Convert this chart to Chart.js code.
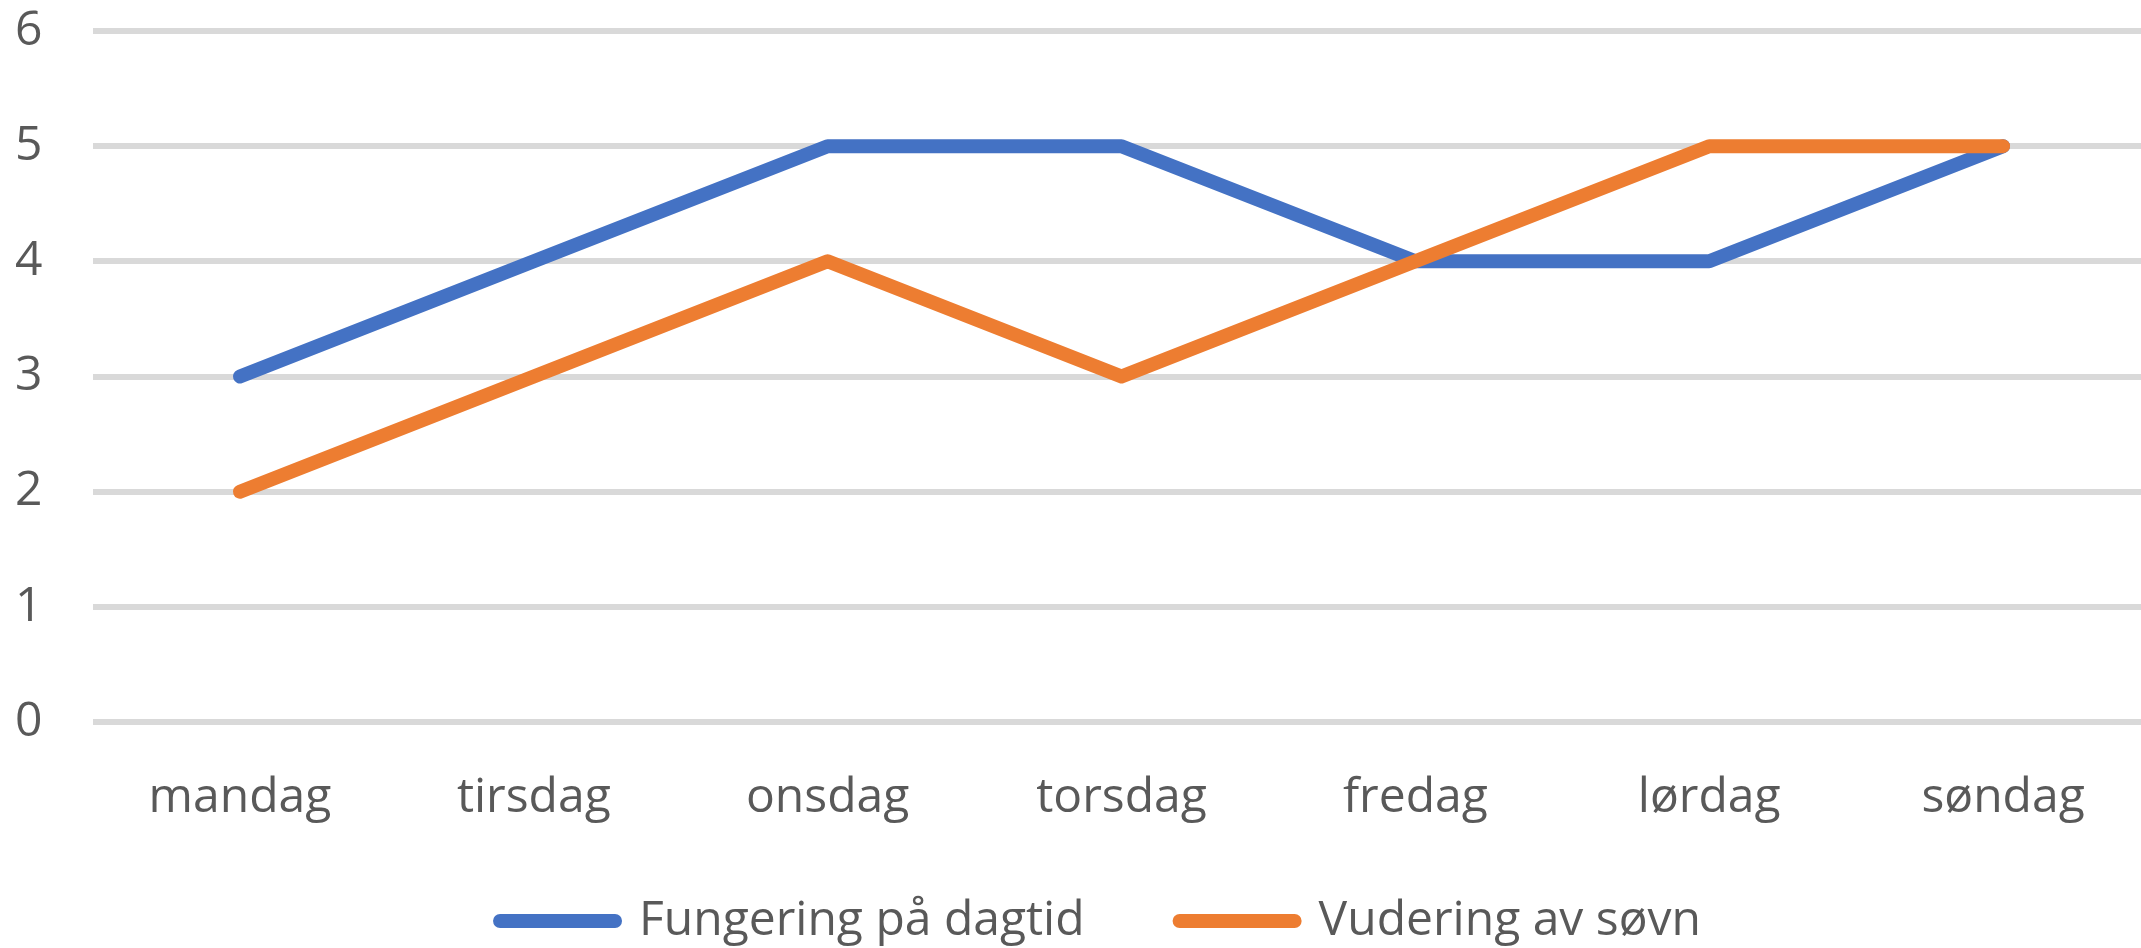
<!DOCTYPE html>
<html>
<head>
<meta charset="utf-8">
<script src="https://cdn.jsdelivr.net/npm/chart.js@4"></script>
<style>
  html, body { margin: 0; padding: 0; background: #fff; overflow: hidden; }
  #wrap { position: relative; width: 2150px; height: 955px; }
</style>
</head>
<body>
<div id="wrap"><canvas id="c"></canvas></div>
<script>
const categories = ["mandag", "tirsdag", "onsdag", "torsdag", "fredag", "lørdag", "søndag"];
const seriesNames = ["Fungering på dagtid", "Vudering av søvn"];
const fungering = [3, 4, 5, 5, 4, 4, 5];
const vudering = [2, 3, 4, 3, 4, 5, 5];
const yTicks = [0, 1, 2, 3, 4, 5, 6];

const FONT = "'Open Sans', 'DejaVu Sans', sans-serif";
const TEXT = "#595959";

const legendShift = {
  id: 'legendShift',
  afterLayout(chart) {
    const lg = chart.legend;
    if (lg) { lg.left += 18; lg.right += 18; }
  }
};

new Chart(document.getElementById('c'), {
  type: 'line',
  data: {
    labels: categories,
    datasets: [
      {
        label: seriesNames[0],
        data: fungering,
        borderColor: '#4472C4',
        backgroundColor: '#4472C4',
        borderWidth: 14,
        borderCapStyle: 'round',
        borderJoinStyle: 'round',
        pointRadius: 0,
        pointHoverRadius: 0,
        tension: 0,
        order: 1
      },
      {
        label: seriesNames[1],
        data: vudering,
        borderColor: '#ED7D31',
        backgroundColor: '#ED7D31',
        borderWidth: 14,
        borderCapStyle: 'round',
        borderJoinStyle: 'round',
        pointRadius: 0,
        pointHoverRadius: 0,
        tension: 0,
        order: 0
      }
    ]
  },
  options: {
    responsive: true,
    maintainAspectRatio: false,
    animation: false,
    events: [],
    layout: { padding: { top: 31, left: 15, right: 0, bottom: 0 } },
    plugins: {
      tooltip: { enabled: false },
      legend: {
        position: 'bottom',
        labels: {
          sort: (a, b) => a.datasetIndex - b.datasetIndex,
          usePointStyle: true,
          pointStyle: 'line',
          pointStyleWidth: 115,
          padding: 95,
          color: TEXT,
          font: { family: FONT, size: 48 },
          generateLabels(chart) {
            return Chart.defaults.plugins.legend.labels.generateLabels(chart)
              .map(item => Object.assign(item, { lineCap: 'round', lineWidth: 14 }));
          }
        }
      }
    },
    scales: {
      x: {
        offset: true,
        grid: { display: false, drawTicks: false },
        border: { display: false },
        ticks: {
          color: TEXT,
          padding: -105,
          mirror: true,
          maxRotation: 0,
          autoSkip: false,
          font: { family: FONT, size: 48 }
        },
        afterFit(scale) { scale.height = 80; }
      },
      y: {
        min: 0,
        max: 6,
        afterBuildTicks(scale) { scale.ticks = yTicks.map(v => ({ value: v })); },
        grid: { color: '#D9D9D9', lineWidth: 6, drawTicks: false },
        border: { display: false },
        ticks: {
          color: TEXT,
          padding: 0,
          crossAlign: 'far',
          font: { family: FONT, size: 48 }
        },
        afterFit(scale) { scale.width = 78; }
      }
    }
  },
  plugins: [legendShift]
});
</script>
</body>
</html>
